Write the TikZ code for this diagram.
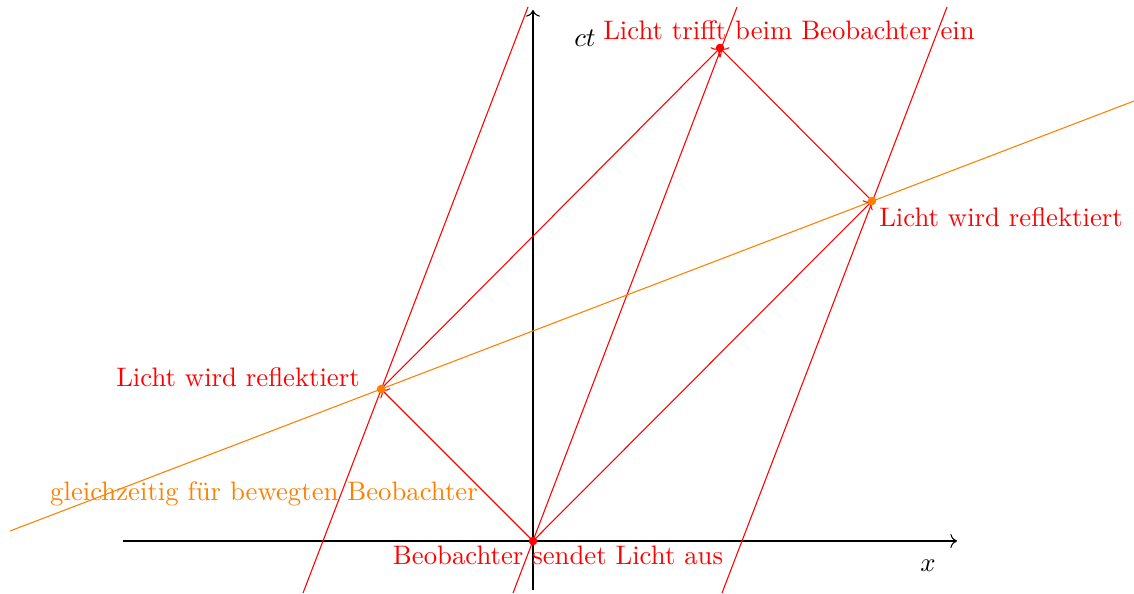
\documentclass[tikz,border=0pt]{standalone}
\usetikzlibrary{arrows.meta}
\begin{document}
\begin{tikzpicture}[x=0.374pt,y=-0.374pt,
  axis/.style={->,black},
  ray/.style={->,red},
  wline/.style={red},
  simul/.style={orange},
  dotr/.style={circle,fill=red,inner sep=0pt,minimum size=3.2pt},
  doto/.style={circle,fill=orange,inner sep=0pt,minimum size=3.2pt},
  lab/.style={red,inner sep=0pt}]
\useasboundingbox (0,0) rectangle (1134,593);
% events
\coordinate (O) at (533,541);
\coordinate (L) at (381,389);
\coordinate (R) at (872,201);
\coordinate (T) at (720,48);
% axes
\coordinate (xs) at (123,541); \coordinate (xe) at (957,541);
\coordinate (ts) at (533,590); \coordinate (te) at (533,10);
\draw[axis] (xs) -- (xe);
\draw[axis] (ts) -- (te);
\node[inner sep=0pt] (ctl) at (585,38) {$ct$};
\node[inner sep=0pt] (xl) at (928,566) {$x$};
% world lines
\coordinate (w1a) at (303,593); \coordinate (w1b) at (528,7);
\coordinate (w2a) at (513,593); \coordinate (w2b) at (737,7);
\coordinate (w3a) at (722,593); \coordinate (w3b) at (947,7);
\draw[wline] (w1a) -- (w1b);
\draw[wline] (w2a) -- (w2b);
\draw[wline] (w3a) -- (w3b);
% simultaneity line
\coordinate (sa) at (10,531); \coordinate (sb) at (1134,101);
\draw[simul] (sa) -- (sb);
% light rays
\draw[ray] (O) -- (L);
\draw[ray] (O) -- (R);
\draw[ray] (L) -- (T);
\draw[ray] (R) -- (T);
% dots
\node[dotr] (Od) at (O) {};
\node[doto] (Ld) at (L) {};
\node[doto] (Rd) at (R) {};
\node[dotr] (Td) at (T) {};
% labels
\node[lab] (tl) at (789,30) {Licht trifft beim Beobachter ein};
\node[lab] (rl) at (1001,217) {Licht wird reflektiert};
\node[lab] (ll) at (238,377) {Licht wird reflektiert};
\node[lab,orange] (gl) at (264,494) {gleichzeitig für bewegten Beobachter};
\node[lab] (bl) at (558,555) {Beobachter sendet Licht aus};
\end{tikzpicture}
\end{document}
